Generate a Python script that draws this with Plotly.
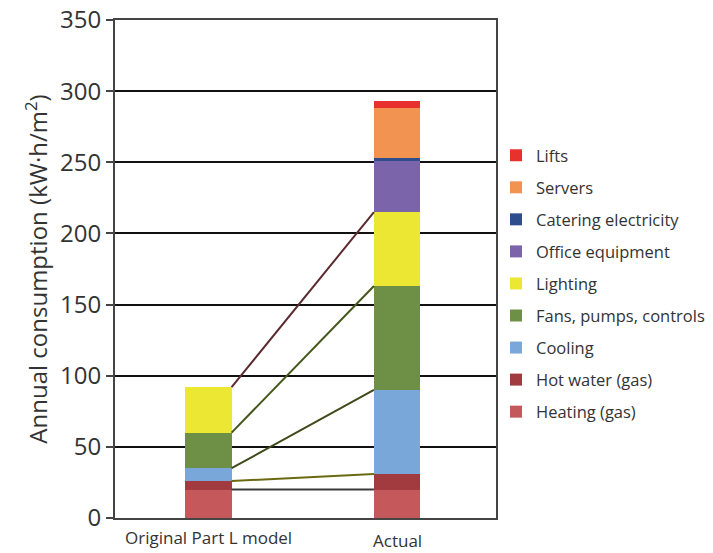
import plotly.graph_objects as go

# Annual consumption by end use, kW·h/m², for the design model and the measured building
categories = ["Original Part L model", "Actual"]
positions = [0, 1]

series_names = [
    "Heating (gas)", "Hot water (gas)", "Cooling", "Fans, pumps, controls",
    "Lighting", "Office equipment", "Catering electricity", "Servers", "Lifts",
]
heating = [20, 20]
hot_water = [6, 11]
cooling = [9, 59]
fans = [25, 73]
lighting = [32, 52]
office = [0, 36]
catering = [0, 2]
servers = [0, 35]
lifts = [0, 5]
series_values = [heating, hot_water, cooling, fans, lighting, office, catering, servers, lifts]

colors = ["#c5585b", "#a13b40", "#7aa7da", "#6e8f46", "#ebe732",
          "#7b64a9", "#2d4d8c", "#f39352", "#e8302c"]

# connector line colours (one per boundary from heating up to lighting)
link_colors = ["#3a3a3a", "#6b6a12", "#3e4a1c", "#45561c", "#5a2a2e"]

bar_width = 0.245
font_family = "Open Sans, Noto Sans, sans-serif"
text_color = "#333333"

fig = go.Figure()

n = len(series_names)
for i, (name, vals, col) in enumerate(zip(series_names, series_values, colors)):
    fig.add_trace(go.Bar(
        x=positions, y=vals, name=name, width=bar_width,
        marker=dict(color=col, line=dict(width=0)),
        legendgroup=name, legendrank=n - i,
    ))

# lines joining the top of each matching segment in the two bars
cum_left, cum_right = 0, 0
for vals, lc in zip(series_values[:5], link_colors):
    cum_left += vals[0]
    cum_right += vals[1]
    fig.add_trace(go.Scatter(
        x=[positions[0] + bar_width / 2, positions[1] - bar_width / 2],
        y=[cum_left, cum_right],
        mode="lines", line=dict(color=lc, width=2),
        showlegend=False, hoverinfo="skip",
    ))

label_shift = [0, -3]
for pos, cat, sh in zip(positions, categories, label_shift):
    fig.add_annotation(
        x=pos, y=0, xref="x", yref="paper", yanchor="top", yshift=-6 + sh,
        text=cat, showarrow=False,
        font=dict(family=font_family, size=17, color=text_color),
    )

fig.update_layout(
    width=713, height=553,
    margin=dict(l=115, r=217, t=20, b=35, autoexpand=False),
    barmode="stack",
    plot_bgcolor="white", paper_bgcolor="white",
    font=dict(family=font_family, color=text_color),
    showlegend=True,
    legend=dict(
        traceorder="grouped", tracegroupgap=7.6,
        x=1.0, xanchor="left", y=0.763, yanchor="top",
        font=dict(family=font_family, size=16.5, color=text_color),
        itemclick=False, bgcolor="rgba(0,0,0,0)",
    ),
    xaxis=dict(
        range=[-0.496, 1.525], tickvals=positions, showticklabels=False,
        showgrid=False, zeroline=False, showline=True, linecolor="#444444",
        linewidth=2, mirror=True, ticks="", automargin=False,
    ),
    yaxis=dict(
        range=[0, 350], dtick=50, tick0=0, automargin=False,
        showgrid=True, gridcolor="#111111", gridwidth=1.5,
        zeroline=False, showline=True, linecolor="#444444", linewidth=2,
        mirror=True, ticks="outside", ticklen=7, tickwidth=1.5, tickcolor="#444444",
        tickfont=dict(family=font_family, size=24, color=text_color),
        title=dict(text="Annual consumption (kW·h/m<sup>2</sup>)", standoff=6,
                   font=dict(family=font_family, size=24, color=text_color)),
    ),
)

fig.write_html("out.html")
